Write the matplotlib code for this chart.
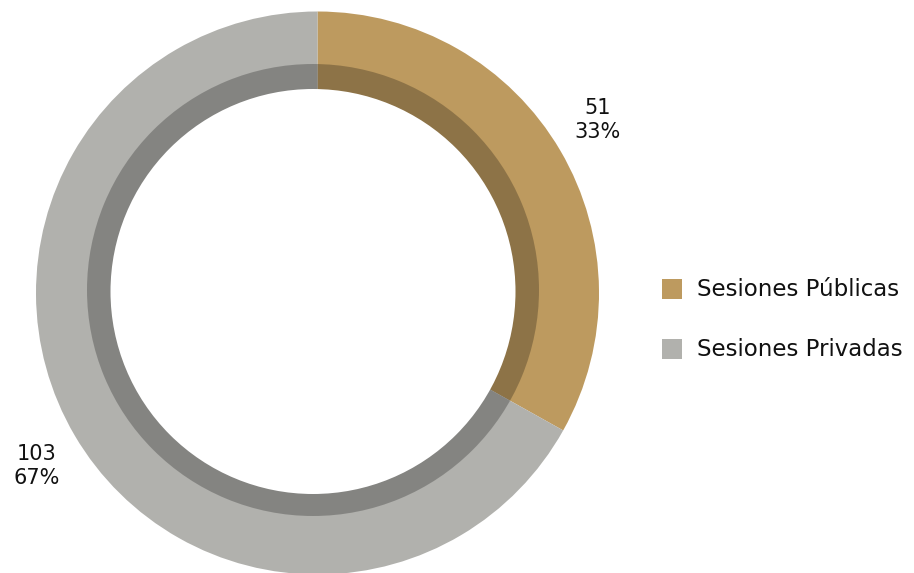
import matplotlib.pyplot as plt
from matplotlib.patches import Rectangle, Wedge, Circle

labels = ["Sesiones Públicas", "Sesiones Privadas"]
values = [51, 103]
colors = ["#BD9A5F", "#B1B1AD"]

plt.rcParams['font.family'] = ['DejaVu Sans']

H = 573
fig = plt.figure(figsize=(9.14, 5.73), dpi=100)
ax = fig.add_axes([0, 0, 1, 1])

cx, cy = 317.5, H - 293
# main donut
ax.pie(values, colors=colors, startangle=90, counterclock=False,
       center=(cx, cy), radius=281.5, frame=True,
       wedgeprops=dict(width=95, linewidth=0))

# inner shadow band, slightly offset up-left (inner part hidden by the hole)
sx, sy = 313, H - 290
ax.add_patch(Wedge((sx, sy), 226, 0, 360, width=40, color='black', alpha=0.25, lw=0))
ax.add_patch(Circle((sx, H - 291.5), 202.5, color='white', lw=0))

ax.set_xlim(0, 914)
ax.set_ylim(0, H)
ax.set_aspect('equal')
ax.axis('off')

total = sum(values)
label_pos = [(598, H - 120), (37, H - 466)]
for v, (x, y) in zip(values, label_pos):
    ax.text(x, y, f"{v}\n{round(v / total * 100)}%", ha='center', va='center',
            fontsize=15, color='#111111', linespacing=1.25)

for i, (lab, c) in enumerate(zip(labels, colors)):
    y = H - 289 - 60 * i
    ax.add_patch(Rectangle((662, y - 10), 20, 20, color=c, lw=0))
    ax.text(697, y - 1, lab, ha='left', va='center', fontsize=16.5, color='#111111')

fig.savefig("out.png", dpi=100)
